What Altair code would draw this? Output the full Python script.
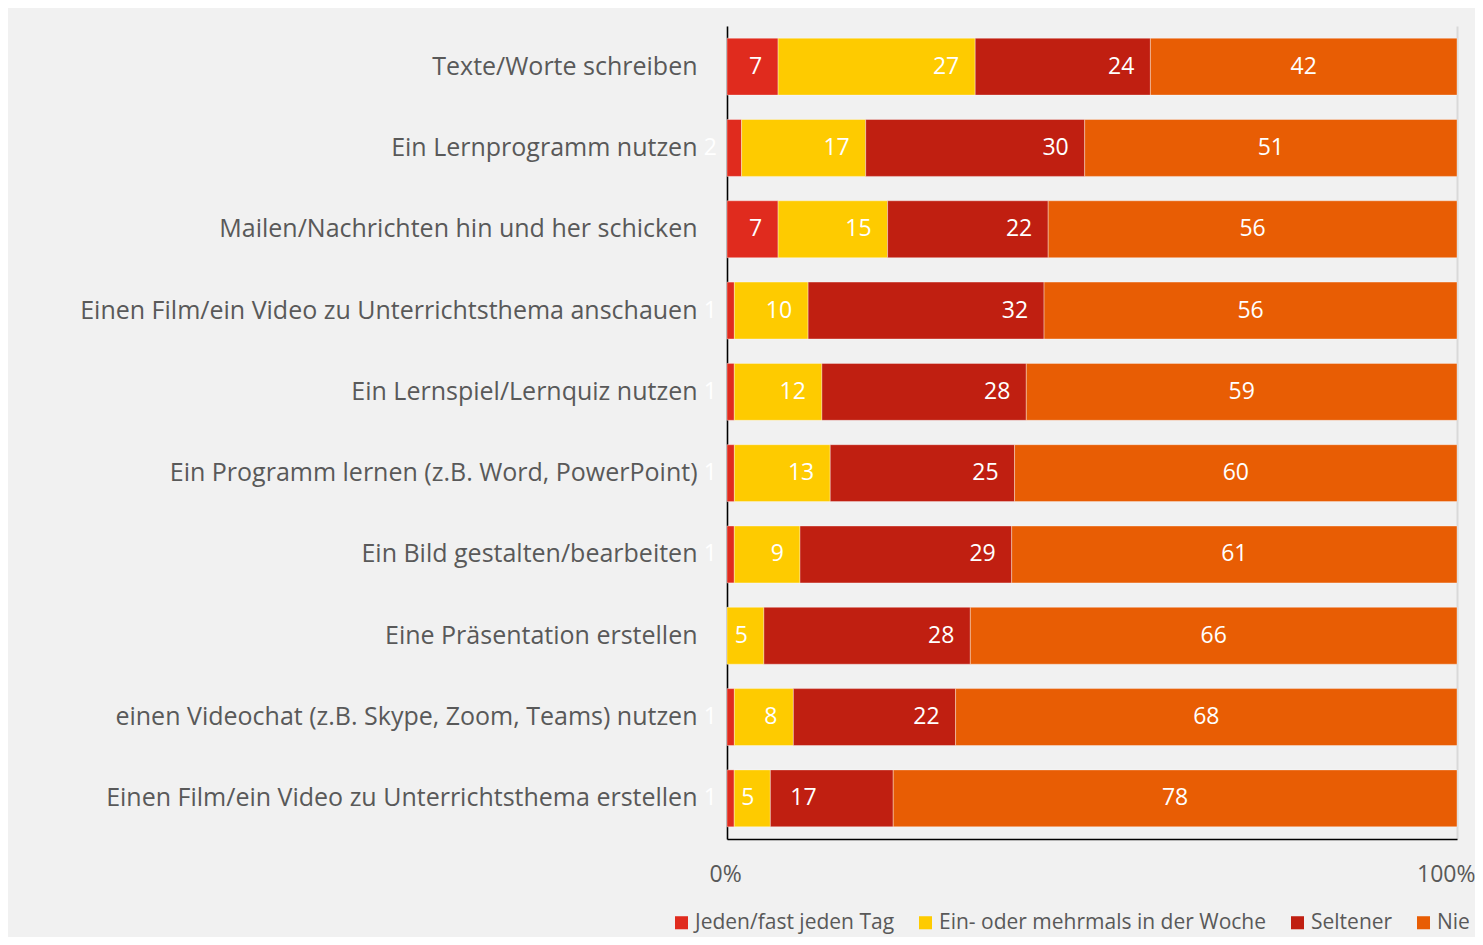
import altair as alt
import pandas as pd

categories = [
    "Texte/Worte schreiben",
    "Ein Lernprogramm nutzen",
    "Mailen/Nachrichten hin und her schicken",
    "Einen Film/ein Video zu Unterrichtsthema anschauen",
    "Ein Lernspiel/Lernquiz nutzen",
    "Ein Programm lernen (z.B. Word, PowerPoint)",
    "Ein Bild gestalten/bearbeiten",
    "Eine Präsentation erstellen",
    "einen Videochat (z.B. Skype, Zoom, Teams) nutzen",
    "Einen Film/ein Video zu Unterrichtsthema erstellen",
]
series = ["Jeden/fast jeden Tag", "Ein- oder mehrmals in der Woche", "Seltener", "Nie"]
colors = ["#e02b1e", "#fecb00", "#c01f11", "#e85d04"]

jeden = [7, 2, 7, 1, 1, 1, 1, 0, 1, 1]
woche = [27, 17, 15, 10, 12, 13, 9, 5, 8, 5]
seltener = [24, 30, 22, 32, 28, 25, 29, 28, 22, 17]
nie = [42, 51, 56, 56, 59, 60, 61, 66, 68, 78]

rows = []
for i, c in enumerate(categories):
    for j, (s, vals) in enumerate(zip(series, [jeden, woche, seltener, nie])):
        rows.append({"category": c, "series": s, "value": vals[i], "order": j})
df = pd.DataFrame(rows)

FONT = "Open Sans"
GREY = "#595959"

base = alt.Chart(df).transform_joinaggregate(
    total="sum(value)", groupby=["category"]
).transform_window(
    cum="sum(value)", groupby=["category"], sort=[alt.SortField("order")],
    frame=[None, 0]
).transform_calculate(
    start="(datum.cum - datum.value) / datum.total",
    end="datum.cum / datum.total",
    mid="(2 * datum.cum - datum.value) / (2 * datum.total)",
)

y_enc = alt.Y(
    "category:N", sort=categories, title=None,
    scale=alt.Scale(paddingInner=0.3, paddingOuter=0.15),
    axis=alt.Axis(labelFont=FONT, labelFontSize=25, labelColor=GREY,
                  labelPadding=30, ticks=False, domain=True,
                  domainColor="#000000", domainWidth=1.5, labelLimit=800),
)
x_scale = alt.Scale(domain=[0, 1], nice=False, zero=True)

bars = base.mark_bar(stroke="#ffffff", strokeWidth=0.6, strokeOpacity=0.6).encode(
    x=alt.X("start:Q", scale=x_scale, title=None,
            axis=alt.Axis(values=[0, 1], format="%", labelFont=FONT,
                          labelFontSize=23, labelColor=GREY, labelPadding=24,
                          labelFlush=True, labelFlushOffset=18,
                          ticks=False, domainColor="#000000", domainWidth=1.5,
                          grid=True, gridColor="#d9d9d9", gridWidth=2)),
    x2="end:Q",
    y=y_enc,
    color=alt.Color("series:N", sort=series,
                    scale=alt.Scale(domain=series, range=colors),
                    legend=alt.Legend(title=None, orient="none", direction="horizontal",
                                      legendX=-56, legendY=886, symbolType="square",
                                      symbolSize=170, symbolStrokeWidth=0,
                                      labelFont=FONT, labelFontSize=21,
                                      labelColor=GREY, labelOffset=3,
                                      columnPadding=20, labelLimit=500)),
    order=alt.Order("order:Q"),
)

exc_cat = categories[-1]
text_props = dict(font=FONT, fontSize=23, color="#ffffff", baseline="middle")

end_labels = base.transform_filter(
    "datum.order < 3 && datum.value >= 3 && !(datum.category == '%s' && datum.order == 2)" % exc_cat
).mark_text(align="right", dx=-16, **text_props).encode(
    x=alt.X("end:Q", scale=x_scale), y=alt.Y("category:N", sort=categories), text="value:Q"
)
mid_labels = base.transform_filter("datum.order == 3").mark_text(
    align="center", **text_props
).encode(x=alt.X("mid:Q", scale=x_scale), y=alt.Y("category:N", sort=categories), text="value:Q")
small_labels = base.transform_filter("datum.order == 0 && datum.value > 0 && datum.value < 3").mark_text(
    align="right", dx=-10, **text_props
).encode(x=alt.X("start:Q", scale=x_scale), y=alt.Y("category:N", sort=categories), text="value:Q")
exc_labels = base.transform_filter(
    "datum.category == '%s' && datum.order == 2" % exc_cat
).mark_text(align="left", dx=20, **text_props).encode(
    x=alt.X("start:Q", scale=x_scale), y=alt.Y("category:N", sort=categories), text="value:Q"
)

chart = alt.layer(bars, end_labels, mid_labels, small_labels, exc_labels).properties(
    width=730, height=813,
    background="#f1f1f1",
    padding={"left": 719, "top": 18, "right": 18, "bottom": 98},
    autosize=alt.AutoSizeParams(type="none"),
).configure_view(stroke=None)

chart.save("out.html", embed_options={"renderer": "svg", "actions": False})
